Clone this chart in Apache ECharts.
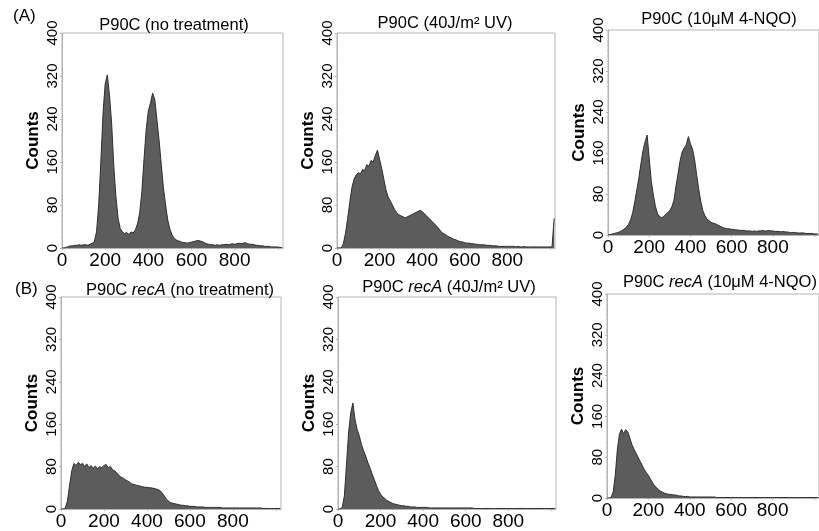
<!DOCTYPE html>
<html>
<head>
<meta charset="utf-8">
<script src="https://cdn.jsdelivr.net/npm/echarts@6/dist/echarts.min.js"></script>
<style>
html,body{margin:0;padding:0;background:#fff;}
#chart{width:819px;height:531px;}
</style>
</head>
<body>
<div id="chart"></div>
<script>
// Histogram channels (DNA content, bin starts)
const channels = [
  0,10,20,30,40,50,60,70,80,90,
  100,110,120,130,140,150,160,170,180,190,
  200,210,220,230,240,250,260,270,280,290,
  300,310,320,330,340,350,360,370,380,390,
  400,410,420,430,440,450,460,470,480,490,
  500,510,520,530,540,550,560,570,580,590,
  600,610,620,630,640,650,660,670,680,690,
  700,710,720,730,740,750,760,770,780,790,
  800,810,820,830,840,850,860,870,880,890,
  900,910,920,930,940,950,960,970,980,990,
  1000,1010,1020
];

// P90C (no treatment)
const countsA1 = [
  0,0,1,3,4,4,5,5,6,5,
  6,6,5,7,9,12,30,80,160,250,
  305,322,285,232,152,95,55,36,30,27,
  29,25,30,28,34,45,65,105,165,220,
  255,270,288,276,238,200,155,112,80,52,
  35,24,18,15,13,12,10,10,9,10,
  11,12,13,14,13,12,10,8,7,6,
  6,5,6,5,6,6,7,6,7,8,
  7,8,9,8,9,10,8,7,7,6,
  5,5,4,4,3,3,3,2,2,2,
  2,1,1
];
// P90C (40J/m2 UV)
const countsA2 = [
  0,0,0,8,28,55,85,112,128,136,
  140,138,146,144,155,152,163,160,172,182,
  165,148,128,108,95,88,80,72,66,62,
  60,58,56,58,60,62,64,66,68,70,
  68,64,60,56,52,48,44,40,35,30,
  27,25,22,20,18,16,15,13,12,11,
  10,9,9,8,8,7,7,6,6,6,
  5,5,5,4,4,4,3,3,3,3,
  3,3,3,3,2,3,2,2,3,2,
  2,2,2,2,2,2,2,2,2,2,
  2,2,55
];
// P90C (10uM 4-NQO)
const countsA3 = [
  0,1,2,3,4,5,7,9,12,16,
  21,30,44,65,88,112,140,165,182,195,
  150,105,78,56,42,36,34,36,40,44,
  48,55,68,95,120,145,162,170,176,192,
  178,168,148,118,90,66,48,38,31,28,
  25,23,22,20,18,16,14,13,12,12,
  11,11,10,10,9,9,9,8,8,8,
  7,8,7,8,8,9,8,8,9,8,
  8,7,7,7,6,7,6,6,5,5,
  5,5,4,4,4,4,3,3,3,3,
  2,2,2
];
// P90C recA (no treatment)
const countsB1 = [
  0,0,2,15,45,72,86,82,88,84,
  86,80,85,78,82,77,81,76,80,78,
  82,84,78,80,74,72,68,63,60,58,
  55,53,50,47,46,45,44,43,42,41,
  41,40,40,39,38,37,35,31,25,19,
  15,12,11,10,9,8,7,7,6,6,
  5,5,5,4,4,4,4,3,3,3,
  3,3,3,3,3,2,2,2,2,2,
  2,2,2,2,2,2,2,2,2,2,
  2,2,2,2,1,1,1,1,1,1,
  1,1,1
];
// P90C recA (40J/m2 UV)
const countsB2 = [
  0,0,3,25,85,145,182,200,168,150,
  138,122,110,100,88,78,66,56,45,35,
  28,23,20,16,14,12,10,9,8,7,
  6,6,5,5,4,4,4,3,3,3,
  3,3,3,2,2,2,2,2,2,2,
  2,2,2,2,2,2,2,2,2,2,
  2,2,2,2,1,1,1,1,1,1,
  1,1,1,1,1,1,1,1,1,1,
  1,1,1,1,1,1,1,1,1,1,
  1,1,1,1,1,1,1,1,1,1,
  1,1,1
];
// P90C recA (10uM 4-NQO)
const countsB3 = [
  0,0,1,12,45,95,125,135,126,134,
  130,118,105,96,88,80,72,64,56,50,
  44,37,30,24,20,16,13,11,9,8,
  7,7,6,6,5,4,4,3,3,3,
  2,2,2,2,2,2,2,2,2,2,
  2,2,2,1,1,1,1,1,1,1,
  1,1,1,1,1,1,1,1,1,1,
  1,1,1,1,1,1,1,1,1,1,
  1,1,1,1,1,1,1,1,1,1,
  1,1,1,1,1,1,1,1,1,1,
  1,1,1
];

const panelTitles = [
  '{n|P90C (no treatment)}',
  '{n|P90C (40J/m² UV)}',
  '{n|P90C (10μM 4-NQO)}',
  '{n|P90C }{i|recA}{n| (no treatment)}',
  '{n|P90C }{i|recA}{n| (40J/m² UV)}',
  '{n|P90C }{i|recA}{n| (10μM 4-NQO)}'
];
const panelCounts = [countsA1, countsA2, countsA3, countsB1, countsB2, countsB3];
const yTicks = [0, 80, 160, 240, 320, 400];
const xTicks = [0, 200, 400, 600, 800];
const yLabel = 'Counts';
const rowLabels = ['(A)', '(B)'];

// Layout (pixels)
const boxes = [
  {left: 62,  top: 33,  width: 221, height: 215, tx: 174, ty: 25},
  {left: 337, top: 33,  width: 218, height: 215, tx: 445, ty: 23},
  {left: 608, top: 30,  width: 215, height: 205, tx: 719, ty: 19},
  {left: 61,  top: 297, width: 220, height: 214, tx: 180, ty: 290},
  {left: 338, top: 297, width: 218, height: 213, tx: 449, ty: 287},
  {left: 607, top: 294, width: 215, height: 204, tx: 720, ty: 282}
];

const FONT = "'Liberation Sans', Arial, Helvetica, sans-serif";
const chart = echarts.init(document.getElementById('chart'), null, {renderer: 'canvas'});

const grid = [], xAxis = [], yAxis = [], series = [], graphic = [];
boxes.forEach((b, i) => {
  grid.push({left: b.left, top: b.top, width: b.width, height: b.height,
    show: true, borderColor: '#b4b4b4', borderWidth: 1, backgroundColor: 'transparent'});
  xAxis.push({
    gridIndex: i, type: 'value', min: 0, max: 1024, interval: 200,
    axisLine: {show: true, lineStyle: {color: '#b4b4b4'}},
    axisTick: {show: true, length: 2, inside: false, lineStyle: {color: '#b4b4b4'}},
    splitLine: {show: false},
    axisLabel: {
      margin: 3, color: '#000', fontSize: 19, fontFamily: FONT,
      showMaxLabel: false,
      formatter: v => (xTicks.indexOf(v) >= 0 ? String(v) : '')
    }
  });
  yAxis.push({
    gridIndex: i, type: 'value', min: yTicks[0], max: yTicks[yTicks.length - 1], interval: 80,
    name: yLabel, nameLocation: 'middle', nameRotate: 90, nameGap: 20,
    nameTextStyle: {fontSize: 17, fontWeight: 'bold', color: '#000', fontFamily: FONT},
    axisLine: {show: true, lineStyle: {color: '#b4b4b4'}},
    axisTick: {show: true, length: 2, lineStyle: {color: '#b4b4b4'}},
    minorTick: {show: true, splitNumber: 8, length: 1, lineStyle: {color: '#c8c8c8'}},
    splitLine: {show: false},
    axisLabel: {rotate: 90, margin: 2, color: '#000', fontSize: 15, fontFamily: FONT}
  });
  series.push({
    type: 'line', xAxisIndex: i, yAxisIndex: i, symbol: 'none', silent: true,
    data: channels.map((c, k) => [c, panelCounts[i][k]]),
    lineStyle: {color: '#2e2e2e', width: 1},
    areaStyle: {color: '#5c5c5c', opacity: 1},
    animation: false
  });
  graphic.push({
    type: 'text', x: b.tx, y: b.ty,
    style: {
      text: panelTitles[i], align: 'center', verticalAlign: 'middle',
      rich: {
        n: {fontSize: 16.5, fontFamily: FONT, fill: '#000', color: '#000'},
        i: {fontSize: 16.5, fontFamily: FONT, fontStyle: 'italic', fill: '#000', color: '#000'}
      }
    }
  });
});
graphic.push({type: 'text', x: 13, y: 8,
  style: {text: rowLabels[0], fontSize: 17, fontFamily: FONT, fill: '#000'}});
graphic.push({type: 'text', x: 15, y: 281,
  style: {text: rowLabels[1], fontSize: 17, fontFamily: FONT, fill: '#000'}});

chart.setOption({
  animation: false,
  backgroundColor: '#fff',
  grid, xAxis, yAxis, series, graphic
});
</script>
</body>
</html>
